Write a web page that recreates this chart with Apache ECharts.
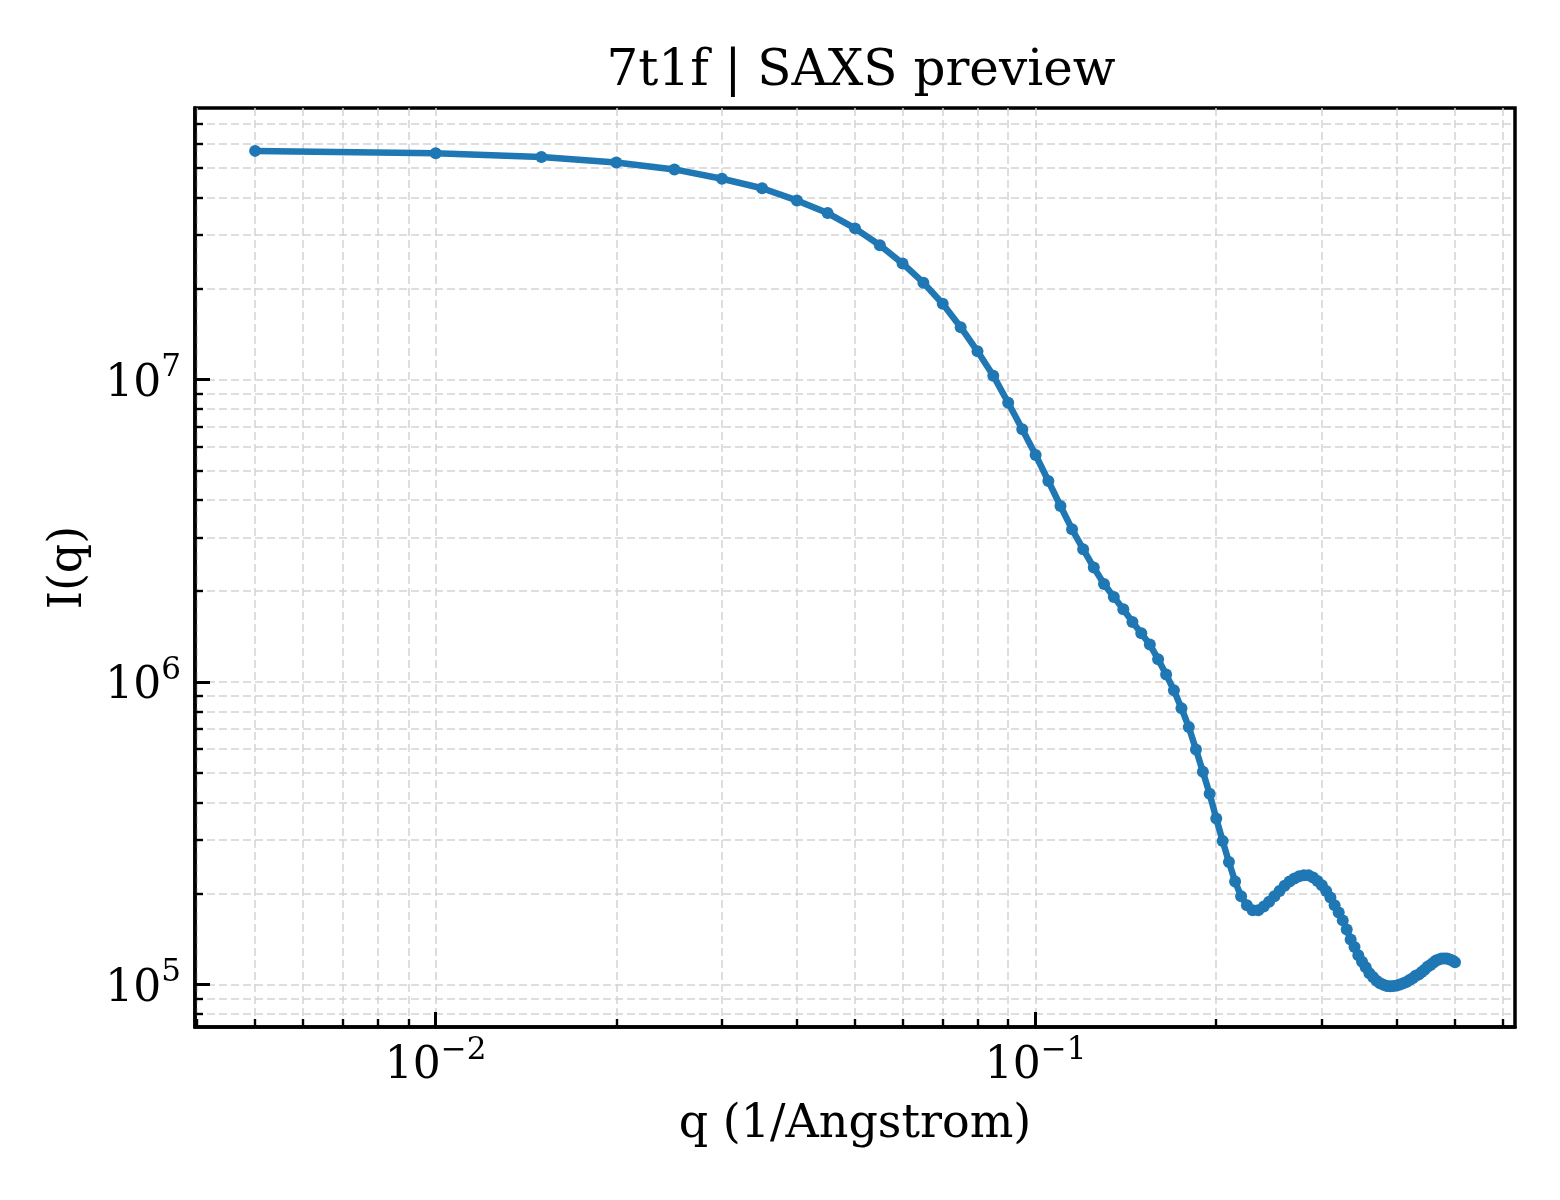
<!DOCTYPE html>
<html>
<head>
<meta charset="utf-8">
<title>7t1f | SAXS preview</title>
<script src="https://cdn.jsdelivr.net/npm/echarts@6/dist/echarts.min.js"></script>
<style>
  html, body { margin: 0; padding: 0; background: #fff; }
  #chart { width: 1560px; height: 1200px; }
</style>
</head>
<body>
<div id="chart"></div>
<script>
// q (1/Angstrom)
var qValues = [
  0.005, 0.010, 0.015, 0.020, 0.025, 0.030, 0.035, 0.040, 0.045, 0.050,
  0.055, 0.060, 0.065, 0.070, 0.075, 0.080, 0.085, 0.090, 0.095, 0.100,
  0.105, 0.110, 0.115, 0.120, 0.125, 0.130, 0.135, 0.140, 0.145, 0.150,
  0.155, 0.160, 0.165, 0.170, 0.175, 0.180, 0.185, 0.190, 0.195, 0.200,
  0.205, 0.210, 0.215, 0.220, 0.225, 0.230, 0.235, 0.240, 0.245, 0.250,
  0.255, 0.260, 0.265, 0.270, 0.275, 0.280, 0.285, 0.290, 0.295, 0.300,
  0.305, 0.310, 0.315, 0.320, 0.325, 0.330, 0.335, 0.340, 0.345, 0.350,
  0.355, 0.360, 0.365, 0.370, 0.375, 0.380, 0.385, 0.390, 0.395, 0.400,
  0.405, 0.410, 0.415, 0.420, 0.425, 0.430, 0.435, 0.440, 0.445, 0.450,
  0.455, 0.460, 0.465, 0.470, 0.475, 0.480, 0.485, 0.490, 0.495, 0.500
];
// I(q)
var intensity = [
  5.70e7, 5.60e7, 5.44e7, 5.22e7, 4.95e7, 4.61e7, 4.29e7, 3.91e7, 3.55e7, 3.16e7,
  2.78e7, 2.42e7, 2.09e7, 1.78e7, 1.49e7, 1.24e7, 1.03e7, 8.38e6, 6.85e6, 5.63e6,
  4.62e6, 3.82e6, 3.20e6, 2.75e6, 2.39e6, 2.11e6, 1.91e6, 1.74e6, 1.58e6, 1.45e6,
  1.33e6, 1.19e6, 1.06e6, 9.39e5, 8.19e5, 7.10e5, 5.99e5, 5.05e5, 4.27e5, 3.54e5,
  2.98e5, 2.54e5, 2.19e5, 1.96e5, 1.83e5, 1.76e5, 1.76e5, 1.81e5, 1.88e5, 1.96e5,
  2.04e5, 2.12e5, 2.19e5, 2.24e5, 2.28e5, 2.30e5, 2.30e5, 2.26e5, 2.20e5, 2.13e5,
  2.04e5, 1.94e5, 1.83e5, 1.73e5, 1.63e5, 1.52e5, 1.41e5, 1.33e5, 1.25e5, 1.19e5,
  1.14e5, 1.09e5, 1.06e5, 1.03e5, 1.01e5, 9.98e4, 9.90e4, 9.88e4, 9.90e4, 9.92e4,
  1.00e5, 1.01e5, 1.02e5, 1.035e5, 1.05e5, 1.07e5, 1.08e5, 1.10e5, 1.12e5, 1.145e5,
  1.16e5, 1.18e5, 1.20e5, 1.21e5, 1.22e5, 1.22e5, 1.22e5, 1.21e5, 1.20e5, 1.185e5
];

// tick positions
var xMajorTicks = [0.01, 0.1];
var xMinorTicks = [0.004, 0.005, 0.006, 0.007, 0.008, 0.009,
  0.02, 0.03, 0.04, 0.05, 0.06, 0.07, 0.08, 0.09,
  0.2, 0.3, 0.4, 0.5, 0.6];
var yMajorTicks = [1e5, 1e6, 1e7];
var yMinorTicks = [8e4, 9e4,
  2e5, 3e5, 4e5, 5e5, 6e5, 7e5, 8e5, 9e5,
  2e6, 3e6, 4e6, 5e6, 6e6, 7e6, 8e6, 9e6,
  2e7, 3e7, 4e7, 5e7, 6e7, 7e7];

var seriesData = [];
for (var i = 0; i < qValues.length; i++) {
    seriesData.push([qValues[i], intensity[i]]);
}

var FONT = 'DejaVu Serif';
var gridLine = { show: true, lineStyle: { color: '#d3d3d3', width: 1.5, type: [8, 4] } };

// 10^n labels, superscript via rich text
var powLabel = function (v) {
    var e = Math.round(Math.log10(v));
    return '{b|10}{s|' + (e < 0 ? '\u2212' + (-e) : e) + '}';
};
var richPow = {
    b: { fontFamily: FONT, fontSize: 44, lineHeight: 54, color: '#000', verticalAlign: 'bottom' },
    s: { fontFamily: FONT, fontSize: 31, lineHeight: 31, color: '#000', verticalAlign: 'top' }
};

var X_MIN = 0.00397, X_MAX = 0.6295, Y_MIN = 7.24e4, Y_MAX = 7.9e7;

var chartDom = document.getElementById('chart');
var myChart = echarts.init(chartDom);

var option = {
    animation: false,
    backgroundColor: '#fff',
    title: {
        text: '7t1f | SAXS preview',
        left: 856,
        top: 42,
        textAlign: 'center',
        textStyle: { fontFamily: FONT, fontSize: 50, fontWeight: 'normal', color: '#000' }
    },
    grid: {
        left: 195, right: 45, top: 108, bottom: 173,
        containLabel: false,
        outerBoundsMode: 'none',
        show: true,
        borderColor: '#000',
        borderWidth: 3.5,
        backgroundColor: '#fff'
    },
    xAxis: [
        {
            type: 'log', min: X_MIN, max: X_MAX, position: 'bottom',
            name: 'q (1/Angstrom)', nameLocation: 'middle', nameGap: 75, nameMoveOverlap: false,
            nameTextStyle: { fontFamily: FONT, fontSize: 46, color: '#000' },
            axisLine: { show: true, lineStyle: { color: '#000', width: 3.5 } },
            axisTick: { show: true, inside: true, length: 15, customValues: xMajorTicks, lineStyle: { color: '#000', width: 3 } },
            axisLabel: { show: true, margin: 8, customValues: xMajorTicks, formatter: powLabel, rich: richPow },
            splitLine: gridLine,
            minorTick: { show: false }
        },
        {
            type: 'log', min: X_MIN, max: X_MAX, position: 'bottom', offset: 0,
            axisLine: { show: false },
            axisTick: { show: true, inside: true, length: 8, customValues: xMinorTicks, lineStyle: { color: '#000', width: 2.4 } },
            axisLabel: { show: false },
            splitLine: gridLine
        }
    ],
    yAxis: [
        {
            type: 'log', min: Y_MIN, max: Y_MAX, position: 'left',
            name: 'I(q)', nameLocation: 'middle', nameGap: 103, nameRotate: 90, nameMoveOverlap: false,
            nameTextStyle: { fontFamily: FONT, fontSize: 46, color: '#000' },
            axisLine: { show: true, lineStyle: { color: '#000', width: 3.5 } },
            axisTick: { show: true, inside: true, length: 15, customValues: yMajorTicks, lineStyle: { color: '#000', width: 3 } },
            axisLabel: { show: true, margin: 14, customValues: yMajorTicks, formatter: powLabel, rich: richPow },
            splitLine: gridLine
        },
        {
            type: 'log', min: Y_MIN, max: Y_MAX, position: 'left', offset: 0,
            axisLine: { show: false },
            axisTick: { show: true, inside: true, length: 8, customValues: yMinorTicks, lineStyle: { color: '#000', width: 2.4 } },
            axisLabel: { show: false },
            splitLine: gridLine
        }
    ],
    series: [
        {
            type: 'line',
            xAxisIndex: 0,
            yAxisIndex: 0,
            data: seriesData,
            symbol: 'circle',
            symbolSize: 12,
            showSymbol: true,
            showAllSymbol: true,
            color: '#1f77b4',
            lineStyle: { color: '#1f77b4', width: 6.5 },
            itemStyle: { color: '#1f77b4' },
            z: 5
        }
    ]
};

myChart.setOption(option);
</script>
</body>
</html>
